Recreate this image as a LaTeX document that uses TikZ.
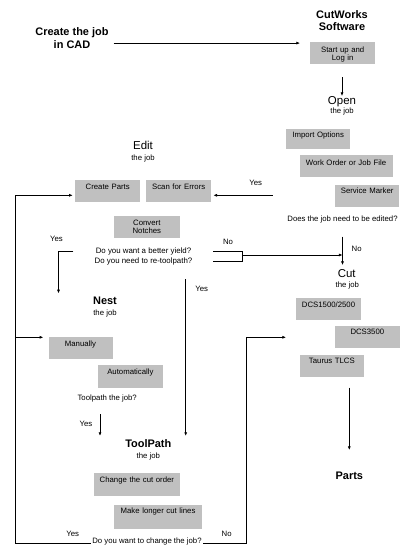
\documentclass[tikz,border=0pt]{standalone}
\usepackage{fontspec}
\setmainfont{Liberation Sans}
\usetikzlibrary{arrows.meta,calc}
\definecolor{boxgray}{RGB}{192,192,192}
\tikzset{
  smalltxt/.style={inner sep=0pt, font=\fontsize{7.8}{8.2}\selectfont},
  boxnode/.style={fill=boxgray, anchor=north west, inner xsep=0pt, inner ysep=0pt,
    align=center, font=\fontsize{7.8}{8.2}\selectfont},
  boldhead/.style={inner sep=0pt, font=\fontsize{11}{12.4}\selectfont\bfseries, align=center},
  plainhead/.style={inner sep=0pt, font=\fontsize{11.5}{12}\selectfont},
  ln/.style={line width=0.65bp, draw=black},
  arr/.style={ln, -{Latex[length=3.6bp,width=3bp]}},
}
% name, x, y, width, height, text-height, text
\newcommand{\grayboxnode}[7]{%
  \pgfmathsetmacro\bxdepth{#5-#6}%
  \node[boxnode, text width=#4bp, text height=#6bp, text depth=\bxdepth bp] (#1) at (#2,#3) {#7};}
\begin{document}
\begin{tikzpicture}[x=1bp,y=-1bp]
\useasboundingbox (0,0) rectangle (418,558);

% ---------- headings ----------
\node[boldhead] (cad) at (72,38) {Create the job\\in CAD};
\node[boldhead] (cutworks) at (342,20.5) {CutWorks\\Software};
\node[plainhead] (openT) at (342,101.7) {Open};
\node[smalltxt] (openS) at (342,111.7) {the job};
\node[plainhead] (editT) at (143,145) {Edit};
\node[smalltxt] (editS) at (143,158.3) {the job};
\node[boldhead] (nestT) at (105,301) {Nest};
\node[smalltxt] (nestS) at (105,313.3) {the job};
\node[plainhead] (cutT) at (346.7,273.3) {Cut};
\node[smalltxt] (cutS) at (347.3,285) {the job};
\node[boldhead] (toolT) at (148.3,443.3) {ToolPath};
\node[smalltxt] (toolS) at (148.3,456) {the job};
\node[boldhead] (partsT) at (349.3,475.7) {Parts};

% ---------- boxes ----------
\grayboxnode{startup}{310}{42.3}{65}{22}{9.7}{Start up and\\Log in}
\grayboxnode{import}{286}{129.3}{64}{20}{8}{Import Options}
\grayboxnode{workorder}{299.3}{155}{93}{22.3}{10}{Work Order or Job File}
\grayboxnode{service}{335}{185}{64}{21.7}{8}{Service Marker}
\grayboxnode{createparts}{75}{180}{65}{22.3}{9.4}{Create Parts}
\grayboxnode{scan}{146}{180}{65}{22.3}{9.4}{Scan for Errors}
\grayboxnode{convert}{114}{215.7}{65.3}{21.6}{9.3}{Convert\\Notches}
\grayboxnode{manually}{48.3}{336.7}{64}{22}{9.3}{Manually}
\grayboxnode{auto}{97.7}{365}{65}{22.3}{9.4}{Automatically}
\grayboxnode{dcs1500}{296}{297.7}{64.7}{22.3}{9.3}{DCS1500/2500}
\grayboxnode{dcs3500}{335}{325.7}{64.3}{22}{8.7}{DCS3500}
\grayboxnode{taurus}{299.3}{354.3}{64.7}{22.4}{9.4}{Taurus TLCS}
\grayboxnode{changeorder}{93.3}{472.7}{86.7}{23.3}{10}{Change the cut order}
\grayboxnode{makelonger}{114}{505}{87.7}{23.3}{8.7}{Make longer cut lines}

% ---------- questions ----------
\node[smalltxt] (q1) at (342.5,219.3) {Does the job need to be edited?};
\node[smalltxt, align=center, font=\fontsize{7.9}{10}\selectfont] (q2) at (143.5,256.3)
  {Do you want a better yield?\\Do you need to re-toolpath?};
\node[smalltxt] (q3) at (107.2,398.3) {Toolpath the job?};
\node[smalltxt, inner xsep=1.3bp] (q4) at (147,541) {Do you want to change the job?};

% ---------- yes / no labels ----------
\node[smalltxt] (yes1) at (255.7,182.7) {Yes};
\node[smalltxt] (yes2) at (56.5,239.3) {Yes};
\node[smalltxt] (yes3) at (201.7,289) {Yes};
\node[smalltxt] (yes4) at (86,424) {Yes};
\node[smalltxt] (yes5) at (72.7,534) {Yes};
\node[smalltxt] (no1) at (228,242.3) {No};
\node[smalltxt] (no2) at (356.7,249.3) {No};
\node[smalltxt] (no3) at (226.7,534) {No};

% ---------- coordinates for free ends ----------
\coordinate (yesR) at (272.7,195.3);
\coordinate (railL) at (15.7,195.3);
\coordinate (manIn) at (43.3,337.3);
\coordinate (railR) at (246.5,337.3);
\coordinate (cutIn) at (286,337.3);
\coordinate (q2L) at (73.3,251.7);
\coordinate (nestIn) at (58.5,293.3);
\coordinate (q2a) at (213.3,251.3);
\coordinate (q2b) at (213.3,261.3);
\coordinate (brk) at (242.7,255);
\coordinate (tpTop) at (185.7,279.3);
\coordinate (q3a) at (100,414);
\coordinate (partsIn) at (349.3,450);

% ---------- connectors ----------
\draw[arr, shorten <=4.8bp, shorten >=10bp]
  ([yshift=-0.8bp]cad.east |- startup.north west) -- ([yshift=-0.8bp]startup.north west);
\draw[arr, shorten <=12.4bp, shorten >=0.3bp] (openT |- startup.south) -- (openT.north);
\draw[arr, shorten >=2bp] (yesR) -- (yesR -| scan.east);
\draw[arr, shorten >=2.3bp] (q4.base west) -| (railL) -- (railL -| createparts.west);
\draw[arr] (manIn -| railL) -- (manIn);
\draw[arr] (q4.base east) -| (railR) -- (cutIn);
\draw[arr] (q2L) -| (nestIn);
\draw[ln] (q2a) -| (brk |- q2b) -- (q2b);
\draw[arr, shorten <=13.5bp, shorten >=4bp] (q1.south) -- (q1.south |- cutT.north);
\draw[arr] (brk) -- (brk -| q1.south);
\draw[arr, shorten >=3.2bp] (tpTop) -- (tpTop |- toolT.north);
\draw[arr, shorten >=3.2bp] (q3a) -- (q3a |- toolT.north);
\draw[arr, shorten <=10.6bp] (taurus.south -| partsIn) -- (partsIn);
\end{tikzpicture}
\end{document}
